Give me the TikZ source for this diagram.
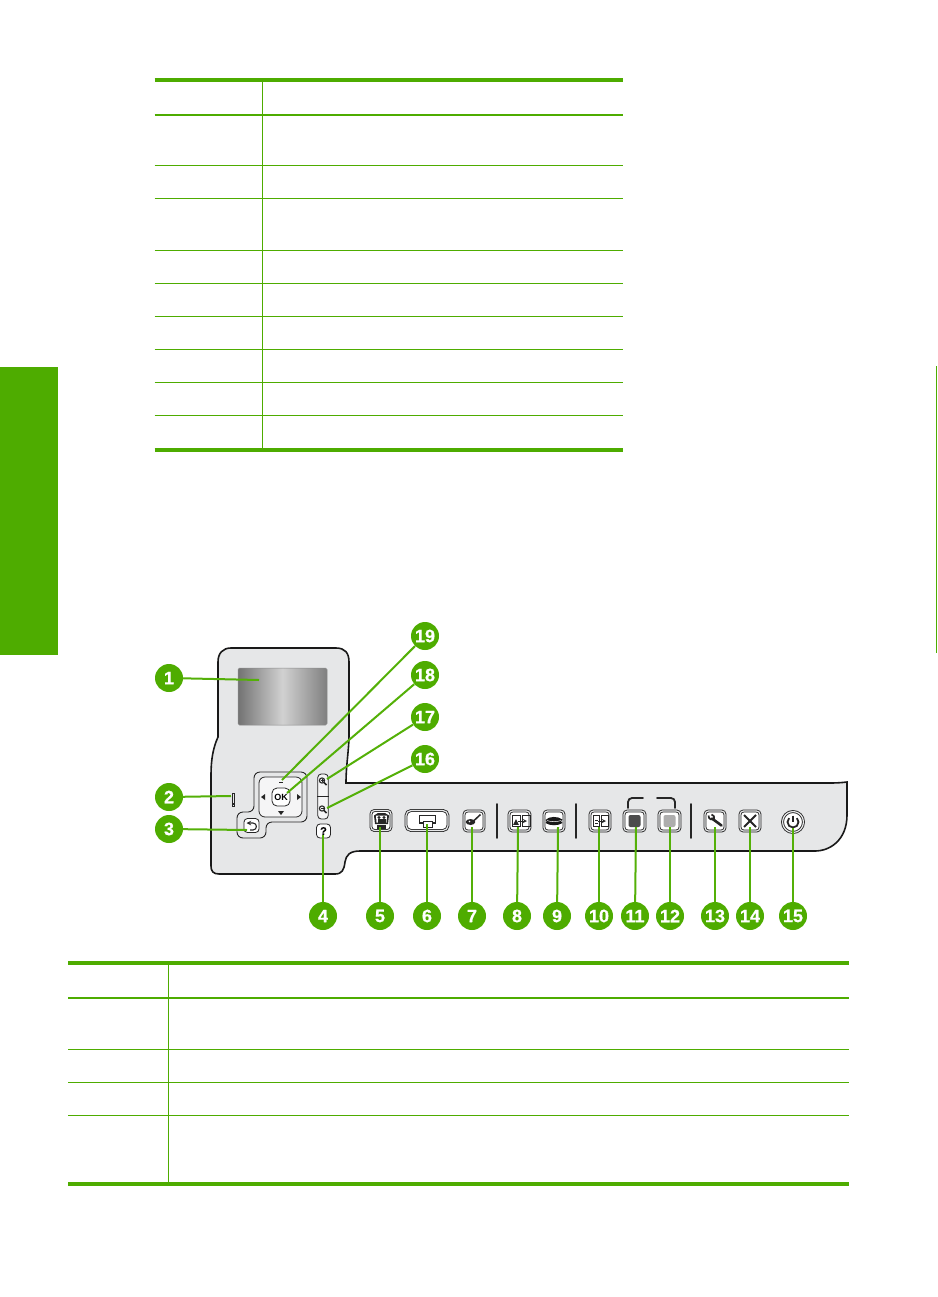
\documentclass[tikz,border=0pt]{standalone}
\usepackage{fontspec}
\setsansfont{Liberation Sans}
\newfontface\dotfont[FakeBold=0.6]{Liberation Sans Bold}
\usetikzlibrary{arrows}
\definecolor{hpgreen}{RGB}{78,172,0}
\definecolor{leadgreen}{RGB}{84,176,8}
\definecolor{panelgray}{RGB}{230,231,232}
\tikzset{
  tabheavy/.style={line width=4pt,hpgreen},
  tabmid/.style={line width=2pt,hpgreen},
  tabrule/.style={line width=1pt,hpgreen},
  numdot/.style={circle,fill=hpgreen,text=white,inner sep=0pt,minimum size=28pt,
                 font=\dotfont\fontsize{18}{18}\selectfont},
  leader/.style={line width=2pt,leadgreen},
  panelline/.style={line width=1.6pt,black!90},
  btnbox/.style={draw=black!85,line width=0.85pt,double=panelgray,double distance=1.2pt,
                 fill=white,rounded corners=3.5pt,inner sep=0pt},
  softbox/.style={draw=black!85,line width=0.8pt,rounded corners=3.5pt,inner sep=0pt},
  sepbar/.style={line width=1.8pt,black!85,line cap=round},
  icon/.style={line width=0.9pt,black!85}
}
\begin{document}
\begin{tikzpicture}[x=1pt,y=-1pt]
\useasboundingbox (0,0) rectangle (937,1297);

% side tab
\fill[hpgreen] (0,367) rectangle (58,655);
\draw[line width=1pt,hpgreen] (936.5,366) -- (936.5,653);

% upper table
\draw[tabheavy] (154.5,80) -- (622.5,80);
\draw[tabmid] (154.5,115) -- (622.5,115);
\draw[tabrule] (154.5,166) -- (622.5,166);
\draw[tabrule] (154.5,199) -- (622.5,199);
\draw[tabrule] (154.5,250) -- (622.5,250);
\draw[tabrule] (154.5,283) -- (622.5,283);
\draw[tabrule] (154.5,316) -- (622.5,316);
\draw[tabrule] (154.5,349) -- (622.5,349);
\draw[tabrule] (154.5,382) -- (622.5,382);
\draw[tabrule] (154.5,415) -- (622.5,415);
\draw[tabheavy] (154.5,450) -- (622.5,450);
\draw[tabrule] (262.5,80) -- (262.5,450);

% lower table
\draw[tabheavy] (68,963) -- (849,963);
\draw[tabmid] (68,998) -- (849,998);
\draw[tabrule] (68,1049) -- (849,1049);
\draw[tabrule] (68,1082) -- (849,1082);
\draw[tabrule] (68,1115) -- (849,1115);
\draw[tabheavy] (68,1184) -- (849,1184);
\draw[tabrule] (168.5,963) -- (168.5,1184);

% panel outline
\draw[panelline,fill=panelgray]
  (218,662) .. controls (218,653) and (223,648) .. (231,648)
  -- (336,648) .. controls (345,648) and (349,653) .. (349,662)
  -- (349,735) .. controls (349,750) and (346,765) .. (346,783)
  -- (830,783) .. controls (840,783) and (847,782) .. (847,782)
  -- (847,815) .. controls (847,840) and (830,851) .. (815,851)
  -- (360,851) .. controls (350,851) and (346,855) .. (345,862)
  .. controls (344,870) and (342,874) .. (335,874)
  -- (219,874) .. controls (213,874) and (211,871) .. (211,866)
  -- (211,775) .. controls (211,760) and (213,748) .. (218,737) -- cycle;

% screen
\path[left color=black!55,right color=black!50,middle color=black!18,draw=black!45,
      rounded corners=1.5pt,line width=0.5pt] (238,668) rectangle (327,725);

% nav pad and back key surround
\draw[softbox,fill=panelgray,line width=0.9pt,rounded corners=6pt]
  (254,812) -- (254,772) -- (307,772) -- (307,822) -- (266,822) -- (266,838) -- (237,838) -- (237,812) -- cycle;
\node[softbox,fill=white!60!panelgray,rounded corners=6pt,minimum width=43pt,minimum height=40pt] (navpad) at (280.5,797) {};
\node[softbox,fill=white,rounded corners=5pt,minimum width=18pt,minimum height=18pt,
      font=\sffamily\bfseries\fontsize{9}{9}\selectfont] (okkey) at (281,797) {OK};
\fill[black!85] (261,797) -- (265,794) -- (265,800) -- cycle;
\fill[black!85] (301,797) -- (297,794) -- (297,800) -- cycle;
\fill[black!85] (281,815) -- (278,811) -- (284,811) -- cycle;
\draw[icon] (279,782) -- (283,782);
\node[softbox,fill=white,minimum width=15pt,minimum height=14pt] (backkey) at (251.5,825.5) {};
\draw[icon,line width=1.1pt,->,>=stealth] (250,830) -- (253,830) .. controls (257.5,830) and (257.5,823) .. (253,823) -- (246.5,823);

% status light
\node[draw=black!85,line width=0.7pt,inner sep=0pt,minimum width=2.5pt,minimum height=10pt] (warnbar) at (233.5,798) {};
\node[draw=black!85,line width=0.7pt,inner sep=0pt,minimum size=2pt] (warndot) at (233.5,805.5) {};

% zoom and help keys
\node[softbox,fill=white!60!panelgray,minimum width=10.5pt,minimum height=45pt] (zoomkeys) at (323,796.5) {};
\draw[softbox] (zoomkeys.west) -- (zoomkeys.east);
\draw[icon,line width=1.1pt] (322,780.5) circle (2.6pt);
\draw[icon,line width=0.7pt] (320.5,780.5) -- (323.5,780.5) (322,779) -- (322,782);
\draw[icon,line width=1.6pt] (323.8,782.3) -- (326.5,785);
\draw[icon,line width=1.1pt] (322,808.5) circle (2.6pt);
\draw[icon,line width=0.7pt] (320.5,808.5) -- (323.5,808.5);
\draw[icon,line width=1.6pt] (323.8,810.3) -- (326.5,813);
\node[softbox,fill=white,minimum width=14pt,minimum height=14pt,
      font=\dotfont\fontsize{11}{11}\selectfont] (helpkey) at (323.5,831) {?};

% function keys
\node[btnbox,minimum width=20pt,minimum height=20pt] (photokey) at (381,820.5) {};
\fill[black!85] (374,815.5) -- (378,813) -- (385,813) -- (389,815.5) -- (388,824) -- (375,824) -- cycle;
\fill[white] (376,815.5) -- (387,815.5) -- (386.5,822.5) -- (376.5,822.5) -- cycle;
\fill[black!85] (379,817.5) circle (1.6pt);
\fill[black!85] (384,817.5) circle (1.6pt);
\fill[black!85] (377.5,819) rectangle (385.5,822.5);
\fill[black!85] (376.5,825) rectangle (386,828.5);
\node[btnbox,minimum width=42pt,minimum height=20pt,rounded corners=5pt] (printkey) at (427,820.5) {};
\draw[icon,line width=1.3pt] (419.5,823) -- (419.5,815.5) -- (435.5,815.5) -- (435.5,823) -- cycle;
\draw[icon,fill=white] (423,821.5) rectangle (432,827);
\node[btnbox,minimum width=20pt,minimum height=20pt] (fixkey) at (474,821) {};
\fill[black!85] (470.5,822) ellipse (4.8pt and 3pt);
\fill[white] (469.5,821.5) circle (0.9pt);
\draw[icon,line width=1.5pt] (473,821.5) -- (480.5,814.5);
\node[btnbox,minimum width=21pt,minimum height=20pt] (reprintkey) at (519.5,821) {};
\draw[icon] (512,815.5) rectangle (520,826);
\fill[black!85] (513.2,824.8) -- (516,819) -- (518.8,824.8) -- cycle;
\draw[icon] (522.5,815.5) rectangle (530.5,826);
\draw[icon,->,>=stealth] (518,821) -- (527,821);
\node[btnbox,minimum width=20pt,minimum height=20pt] (scankey) at (554,821) {};
\fill[black!90] (545.5,820) .. controls (549,816) and (558,816) .. (562.5,819.5) .. controls (560.5,821) and (560.5,822) .. (562.5,823)
  .. controls (558,826) and (550,826) .. (545.5,823) .. controls (547,822) and (547,821) .. (545.5,820) -- cycle;
\draw[white,line width=0.5pt] (547,820.5) .. controls (551,822) and (557,822) .. (561,820.5);
\node[btnbox,minimum width=20pt,minimum height=20pt] (copykey) at (600,821) {};
\draw[icon] (593,815.5) rectangle (599.5,826);
\fill[black!85] (594.5,819.5) rectangle (598,821);
\fill[black!85] (594.5,822.5) rectangle (598,824);
\draw[icon] (601.5,815.5) rectangle (608.5,826);
\draw[icon,->,>=stealth] (598,821) -- (606,821);
\node[btnbox,minimum width=21pt,minimum height=20pt] (blackkey) at (634.5,821) {};
\fill[black!70,rounded corners=2pt] (628.5,815) rectangle (640.5,827);
\node[btnbox,minimum width=21pt,minimum height=20pt] (colorkey) at (669.5,821) {};
\fill[black!32,rounded corners=2pt] (663.5,815) rectangle (675.5,827);
\node[btnbox,minimum width=20pt,minimum height=20pt] (setupkey) at (715,821) {};
\draw[icon,line width=2.6pt,line cap=round] (712,818.5) -- (721.5,825.5);
\draw[icon,line width=1.7pt] (708.5,815.5) .. controls (708.5,819.5) and (712,820.5) .. (714,818.5) .. controls (715,817) and (713.5,815) .. (711.5,814.5);
\node[btnbox,minimum width=20pt,minimum height=20pt] (cancelkey) at (750,821) {};
\draw[icon,line width=2pt] (744,815) -- (756,827);
\draw[icon,line width=2pt] (744,827) -- (756,815);
\node[circle,fill=white,draw=black!85,line width=0.85pt,double=panelgray,double distance=1.2pt,
      inner sep=0pt,minimum size=21pt] (powerkey) at (793,822) {};
\draw[icon,line width=1.8pt] (789.1,818.1) arc (225:-45:5.5);
\draw[icon,line width=1.8pt] (793,815.5) -- (793,822);

% separators and brackets
\draw[sepbar] (497,804) -- (497,838);
\draw[sepbar] (576,804) -- (576,838);
\draw[sepbar] (691,804) -- (691,838);
\draw[sepbar,rounded corners=4pt] (628,808) -- (628,798) -- (643,798);
\draw[sepbar,rounded corners=4pt] (657,798) -- (675,798) -- (675,808);

% number dots
\node[numdot] (dota) at (169,678) {1};
\node[numdot] (dotb) at (169,797) {2};
\node[numdot] (dotc) at (169,829) {3};
\node[numdot] (dotd) at (323,916) {4};
\node[numdot] (dote) at (380,916) {5};
\node[numdot] (dotf) at (427,916) {6};
\node[numdot] (dotg) at (472,916) {7};
\node[numdot] (doth) at (517,916) {8};
\node[numdot] (doti) at (557,916) {9};
\node[numdot] (dotj) at (599,916) {10};
\node[numdot] (dotk) at (635,916) {11};
\node[numdot] (dotl) at (670,916) {12};
\node[numdot] (dotm) at (715,916) {13};
\node[numdot] (dotn) at (750,916) {14};
\node[numdot] (doto) at (793,916) {15};
\node[numdot] (dotp) at (425,759) {16};
\node[numdot] (dotq) at (425,717) {17};
\node[numdot] (dotr) at (425,675) {18};
\node[numdot] (dots) at (425,636) {19};

% leader ends
\coordinate (enda) at (259,680);
\coordinate (endb) at (231,796);
\coordinate (endc) at (247,830);
\coordinate (endd) at (323,835);
\coordinate (ende) at (380,827);
\coordinate (endf) at (427,824);
\coordinate (endg) at (472,827);
\coordinate (endh) at (518,827);
\coordinate (endi) at (558,827);
\coordinate (endj) at (599,827);
\coordinate (endk) at (636,827);
\coordinate (endl) at (670,827);
\coordinate (endm) at (715,827);
\coordinate (endn) at (750,827);
\coordinate (endo) at (793,828);
\coordinate (endp) at (327,808);
\coordinate (endq) at (327,779);
\coordinate (endr) at (287,793);
\coordinate (ends) at (282,780);

\draw[leader] (dota) -- (enda);
\draw[leader] (dotb) -- (endb);
\draw[leader] (dotc) -- (endc);
\draw[leader] (dotd) -- (endd);
\draw[leader] (dote) -- (ende);
\draw[leader] (dotf) -- (endf);
\draw[leader] (dotg) -- (endg);
\draw[leader] (doth) -- (endh);
\draw[leader] (doti) -- (endi);
\draw[leader] (dotj) -- (endj);
\draw[leader] (dotk) -- (endk);
\draw[leader] (dotl) -- (endl);
\draw[leader] (dotm) -- (endm);
\draw[leader] (dotn) -- (endn);
\draw[leader] (doto) -- (endo);
\draw[leader] (dotp) -- (endp);
\draw[leader] (dotq) -- (endq);
\draw[leader] (dotr) -- (endr);
\draw[leader] (dots) -- (ends);
\end{tikzpicture}
\end{document}
